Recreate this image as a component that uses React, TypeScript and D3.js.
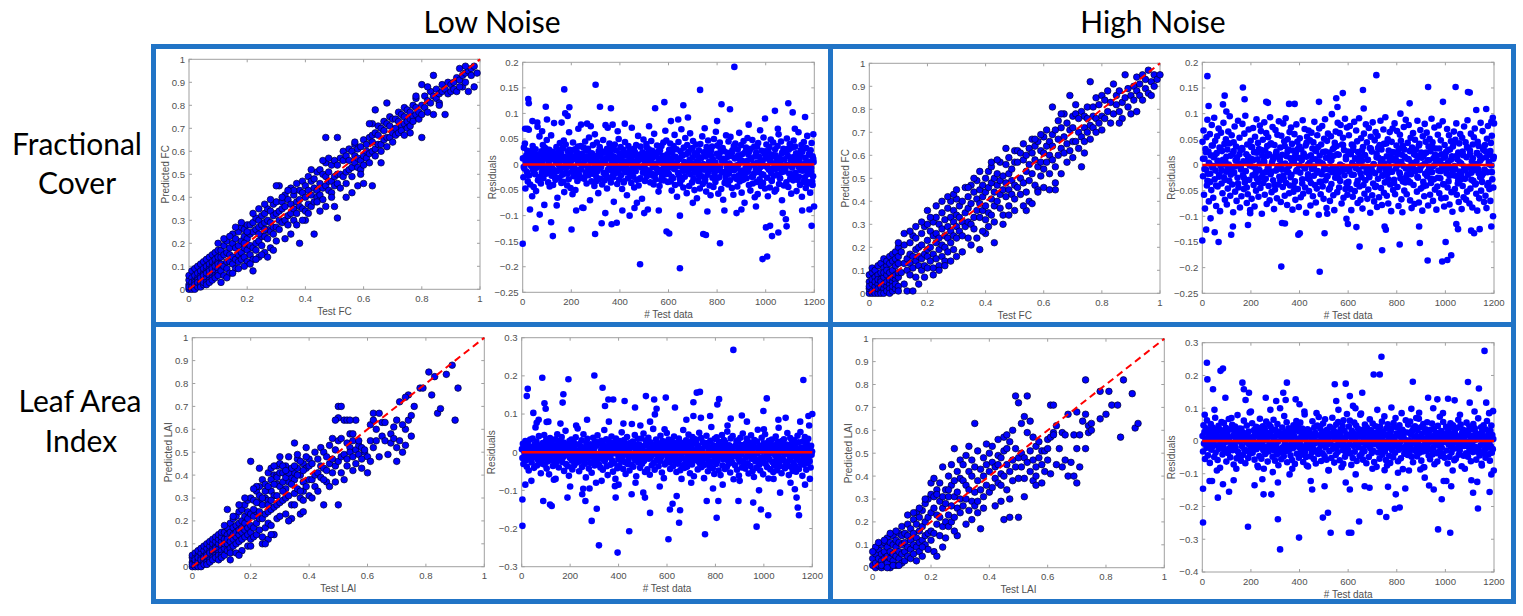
import React from 'react';
import * as d3 from 'd3';

// ---------- text ----------
const colTitles = ['Low Noise', 'High Noise'];
const rowTitles = [['Fractional', 'Cover'], ['Leaf Area', 'Index']];

// ---------- tick values ----------
const unitTicksY = [0, 0.1, 0.2, 0.3, 0.4, 0.5, 0.6, 0.7, 0.8, 0.9, 1];
const unitTicksX = [0, 0.2, 0.4, 0.6, 0.8, 1];
const indexTicks = [0, 200, 400, 600, 800, 1000, 1200];
const resFcTicks = [-0.25, -0.2, -0.15, -0.1, -0.05, 0, 0.05, 0.1, 0.15, 0.2];
const resLowLaiTicks = [-0.3, -0.2, -0.1, 0, 0.1, 0.2, 0.3];
const resHighLaiTicks = [-0.4, -0.3, -0.2, -0.1, 0, 0.1, 0.2, 0.3];

// ---------- scatter data: [test, predicted] in hundredths ----------
const lowFcPts: [number, number][] = [
[0,0],[0,2],[0,4],[0,1],[0,6],[1,0],[1,2],[1,5],[1,3],[1,8],[1,1],[2,1],[2,4],[2,0],[2,6],[2,3],[2,9],[2,2],[3,2],[3,5],[3,1],[3,7],[3,4],[3,10],[3,3],
[4,3],[4,6],[4,2],[4,8],[4,5],[4,1],[4,11],[5,4],[5,7],[5,2],[5,9],[5,6],[5,12],[5,3],[6,5],[6,8],[6,3],[6,10],[6,7],[6,2],[6,13],
[7,6],[7,4],[7,9],[7,11],[7,3],[7,8],[7,14],[8,7],[8,10],[8,5],[8,12],[8,4],[8,9],[8,15],[9,8],[9,6],[9,11],[9,13],[9,5],[9,10],[9,16],[10,9],[10,12],[10,7],[10,14],[10,6],[10,11],[10,17],
[11,14],[11,8],[11,17],[11,11],[12,10],[12,19],[12,6],[12,15],[13,16],[13,9],[13,21],[13,12],[14,12],[14,7],[14,18],[14,15],[15,20],[15,11],[15,24],[15,14],
[16,13],[16,22],[16,9],[16,18],[17,19],[17,12],[17,25],[17,15],[18,16],[18,27],[18,13],[18,21],[19,23],[19,14],[19,18],[19,26],[20,17],[20,28],[20,12],[20,22],
[21,24],[21,15],[21,19],[21,28],[22,18],[22,29],[22,25],[22,13],[23,26],[23,20],[23,31],[23,17],[24,21],[24,30],[24,14],[24,27],[25,28],[25,19],[25,32],[25,23],
[26,23],[26,33],[26,16],[26,29],[27,30],[27,22],[27,35],[27,26],[28,25],[28,34],[28,18],[28,29],[29,32],[29,24],[29,37],[29,27],[30,27],[30,38],[30,21],[30,33],
[10,20],[12,22],[14,23],[16,27],[18,29],[13,5],[15,7],[17,9],[19,10],[21,11],[23,13],[25,15],[27,14],[29,17],[22,33],[24,35],[26,37],[28,39],[11,3],[31,45],[22,8],[20,25],[24,24],[26,26],[19,20],
[31,34],[31,26],[31,30],[32,38],[32,29],[32,35],[33,30],[33,41],[33,36],[34,39],[34,32],[34,28],[35,33],[35,44],[35,37],[36,41],[36,35],[36,30],[37,46],[37,38],[37,33],
[38,36],[38,43],[38,39],[39,35],[39,47],[39,42],[40,45],[40,40],[40,34],[41,43],[41,37],[41,49],[42,41],[42,47],[42,36],[43,48],[43,44],[43,38],[44,43],[44,51],[44,40],
[45,46],[45,41],[45,52],[46,50],[46,44],[46,39],[47,45],[47,55],[47,49],[48,51],[48,43],[48,47],[49,54],[49,47],[49,42],[50,49],[50,56],[50,45],
[33,22],[35,24],[38,20],[43,24],[45,34],[47,36],[50,36],[40,30],[36,43],[39,30],[41,33],[46,56],[48,57],[32,40],[37,28],[34,43],[49,40],[47,66],[30,45],[42,52],[44,38],
[51,54],[51,46],[51,66],[51,31],[51,50],[52,57],[52,50],[52,44],[53,49],[53,56],[53,60],[54,58],[54,51],[54,46],[55,52],[55,61],[55,56],[56,60],[56,53],[56,49],
[57,55],[57,63],[57,58],[58,53],[58,61],[58,57],[59,62],[59,56],[59,52],[60,58],[60,65],[60,54],[61,63],[61,57],[61,60],[62,59],[62,66],[62,55],
[63,64],[63,60],[63,45],[63,72],[63,67],[64,61],[64,68],[64,58],[65,67],[65,63],[65,71],[66,63],[66,70],[66,60],[67,69],[67,65],[67,73],[68,66],[68,72],[68,62],[69,71],[69,66],[69,75],[70,68],[70,74],[70,64],
[54,40],[56,42],[58,45],[60,46],[62,72],[64,78],[68,81],[57,64],[66,55],[59,50],
[71,70],[71,74],[71,67],[72,73],[72,68],[72,77],[73,71],[73,76],[73,69],[74,75],[74,72],[74,79],[75,73],[75,78],[75,70],[76,77],[76,74],[76,71],[77,75],[77,80],[77,73],
[78,79],[78,76],[78,83],[79,77],[79,74],[80,80],[80,76],[80,66],[81,79],[81,84],[82,82],[82,77],[83,81],[83,86],[84,84],[84,76],[84,93],[85,83],[85,87],[86,85],[86,81],
[87,86],[87,89],[88,87],[88,76],[89,85],[89,90],[90,89],[90,86],[91,90],[91,87],[92,92],[92,86],[93,91],[93,96],[94,93],[94,88],[95,94],[95,90],[96,95],[96,86],
[97,96],[97,93],[98,97],[98,88],[99,94],[95,97],[93,88],[78,84],[80,89],[76,68],[74,67],[82,88],[86,80]
];

const highFcPts: [number, number][] = [
[0,0],[0,2],[0,5],[0,8],[0,3],[1,0],[1,4],[1,1],[1,9],[1,6],[1,11],[2,1],[2,3],[2,7],[2,0],[2,10],[2,5],[3,0],[3,4],[3,2],[3,8],[3,12],[3,6],
[4,1],[4,6],[4,3],[4,9],[4,13],[4,5],[4,0],[5,2],[5,7],[5,0],[5,11],[5,4],[5,15],[5,9],[6,3],[6,8],[6,1],[6,12],[6,5],[6,14],[6,10],
[7,4],[7,9],[7,2],[7,13],[7,6],[7,16],[7,0],[8,5],[8,10],[8,1],[8,14],[8,7],[8,3],[8,17],[9,6],[9,12],[9,2],[9,15],[9,8],[9,4],[9,18],[10,7],[10,13],[10,3],[10,16],[10,9],[10,1],[10,20],
[11,18],[11,9],[12,13],[12,4],[12,21],[13,15],[13,10],[14,22],[14,8],[14,13],[14,17],[15,11],[15,25],[15,16],[16,19],[16,7],[16,14],[16,24],[17,20],[17,12],[17,16],
[18,26],[18,10],[18,21],[18,15],[19,17],[19,29],[19,12],[20,23],[20,16],[20,30],[20,11],[20,19],
[21,27],[21,14],[21,20],[22,31],[22,17],[22,25],[22,11],[23,22],[23,33],[23,15],[23,26],[24,19],[24,30],[24,24],[24,12],[25,35],[25,21],[25,28],[25,16],
[26,25],[26,32],[26,14],[26,20],[27,37],[27,24],[27,29],[27,18],[28,22],[28,33],[28,27],[28,40],[29,31],[29,19],[29,36],[29,25],[30,24],[30,34],[30,29],[30,41],
[12,26],[14,27],[16,29],[18,31],[20,36],[22,8],[24,10],[26,12],[28,14],[30,16],[10,22],[13,1],[17,4],[19,7],[25,40],[27,42],[29,43],[23,38],[21,33],[15,1],
[31,38],[31,27],[31,33],[32,25],[32,40],[32,31],[33,35],[33,46],[33,29],[34,31],[34,42],[34,37],[34,24],[35,39],[35,30],[35,47],[36,44],[36,33],[36,28],[37,36],[37,49],[37,41],
[38,33],[38,45],[38,39],[38,19],[39,47],[39,36],[39,42],[40,32],[40,44],[40,50],[40,38],
[41,46],[41,35],[41,53],[42,41],[42,48],[42,34],[42,55],[43,38],[43,50],[43,44],[43,22],[44,52],[44,40],[44,47],[45,43],[45,57],[45,37],[45,49],[46,51],[46,45],[46,30],
[47,56],[47,42],[47,48],[48,38],[48,52],[48,59],[48,45],[49,54],[49,43],[49,49],[50,41],[50,57],[50,47],[50,62],
[32,18],[35,21],[37,24],[40,26],[38,53],[46,34],[48,34],[50,36],[42,57],[44,58],[36,50],[41,29],[39,27],[47,63],[43,31],[34,46],[30,45],
[51,57],[51,46],[51,62],[52,50],[52,61],[52,43],[53,58],[53,48],[53,65],[54,53],[54,44],[54,60],[55,49],[55,63],[55,56],[55,40],[56,61],[56,52],[56,67],[57,47],[57,58],[57,64],
[58,55],[58,66],[58,45],[59,62],[59,51],[59,57],[60,68],[60,54],[60,46],[60,61],
[61,57],[61,71],[61,64],[62,52],[62,66],[62,60],[63,69],[63,58],[63,81],[63,64],[64,55],[64,71],[64,45],[65,67],[65,60],[65,75],[66,72],[66,63],[66,52],
[67,68],[67,78],[67,61],[68,74],[68,57],[68,65],[69,71],[69,86],[69,62],[70,77],[70,66],[70,59],[70,72],
[54,36],[58,44],[64,48],[62,45],[56,39],[53,38],[57,67],[59,69],[66,78],
[71,78],[71,66],[71,82],[72,70],[72,63],[72,76],[73,68],[73,79],[73,55],[74,77],[74,66],[74,72],[75,81],[75,70],[75,76],[76,73],[76,92],[76,67],[77,81],[77,72],[77,77],
[78,70],[78,85],[78,76],[79,82],[79,74],[80,77],[80,86],[80,71],[81,84],[81,76],[82,79],[82,88],[83,74],[83,83],[84,91],[84,78],[85,82],[85,86],[86,79],[86,88],
[87,83],[87,76],[88,95],[88,85],[89,81],[89,89],[90,86],[90,78],[91,90],[91,84],[92,88],[92,94],[93,86],[93,91],[94,95],[94,84],[95,89],[95,93],[96,87],[96,97],
[97,92],[97,86],[98,95],[98,90],[99,93],[100,95],[92,79],[74,61],[86,74]
];

const lowLaiPts: [number, number][] = [
[0,0],[0,2],[0,4],[0,1],[0,5],[1,0],[1,2],[1,4],[1,1],[1,6],[1,3],[2,1],[2,3],[2,0],[2,5],[2,2],[2,7],[2,4],[3,2],[3,4],[3,1],[3,6],[3,3],[3,8],[3,0],
[4,3],[4,5],[4,2],[4,7],[4,4],[4,1],[4,9],[5,4],[5,6],[5,2],[5,8],[5,5],[5,10],[5,1],[6,5],[6,7],[6,3],[6,9],[6,6],[6,2],[6,11],
[7,6],[7,8],[7,4],[7,10],[7,3],[7,12],[7,7],[8,7],[8,9],[8,5],[8,11],[8,4],[8,13],[8,8],[9,8],[9,10],[9,6],[9,12],[9,5],[9,14],[9,3],[10,9],[10,11],[10,7],[10,13],[10,5],[10,15],[10,4],
[11,12],[11,8],[11,15],[11,5],[11,10],[12,10],[12,14],[12,7],[12,17],[12,12],[13,15],[13,11],[13,8],[13,19],[13,6],[14,12],[14,17],[14,21],[14,9],[14,14],
[15,18],[15,13],[15,10],[15,22],[15,15],[16,14],[16,19],[16,11],[16,24],[16,16],[17,20],[17,15],[17,12],[17,25],[17,17],[18,16],[18,22],[18,13],[18,27],[18,19],
[19,21],[19,17],[19,14],[19,29],[19,24],[20,18],[20,23],[20,15],[20,30],[20,12],
[12,25],[14,22],[16,27],[18,30],[20,46],[13,3],[15,6],[17,7],[19,9],[11,18],[16,5],[20,9],
[21,22],[21,13],[21,29],[21,17],[22,19],[22,33],[22,24],[22,14],[23,28],[23,16],[23,35],[23,21],[24,21],[24,38],[24,27],[24,13],[25,30],[25,17],[25,23],[25,36],
[26,24],[26,41],[26,19],[26,29],[27,33],[27,18],[27,25],[27,43],[28,26],[28,40],[28,14],[28,31],[29,36],[29,21],[29,27],[29,44],[30,28],[30,45],[30,22],[30,35],
[22,35],[24,10],[26,12],[28,44],[30,48],[23,43],[25,10],[27,14],[29,40],[21,34],
[21,25],[22,28],[23,31],[24,30],[25,33],[26,35],[27,38],[28,36],[29,39],[30,41],[31,41],[32,44],[33,37],[34,39],[35,41],[36,43],[37,40],[38,45],[39,43],[40,47],
[23,24],[26,27],[29,31],[32,34],[35,38],[38,33],[31,33],[34,27],[37,30],[27,29],
[31,37],[31,29],[31,44],[32,30],[32,39],[32,23],[33,41],[33,31],[33,48],[34,36],[34,43],[34,21],[35,44],[35,32],[35,54],[35,27],[36,40],[36,34],[36,47],
[37,33],[37,46],[37,23],[38,42],[38,37],[38,29],[39,48],[39,35],[39,52],[40,44],[40,38],[40,31],[33,20],[36,49],[38,24],[32,42],
[41,45],[41,38],[41,30],[42,40],[42,50],[42,35],[43,47],[43,41],[43,33],[44,39],[44,52],[44,44],[45,50],[45,43],[45,27],[46,42],[46,48],[46,37],
[47,53],[47,45],[47,35],[48,41],[48,56],[48,47],[49,51],[49,44],[49,37],[50,55],[50,46],[50,27],[50,70],[50,65],[51,70],[49,64],[45,38],
[51,56],[51,48],[51,41],[52,64],[52,49],[52,38],[53,54],[53,47],[53,44],[54,58],[54,52],[54,50],[55,55],[55,48],[55,58],[55,42],[56,51],[56,45],[56,64],
[57,49],[57,53],[58,52],[58,43],[59,50],[59,51],[60,48],[60,41],[53,64],[54,64],[57,55],[58,47],
[61,55],[61,62],[61,46],[62,67],[62,64],[62,52],[63,60],[63,55],[64,67],[64,48],[65,57],[65,63],[66,55],[67,49],[68,54],[68,58],[69,56],[69,61],[70,46],[70,64],[70,52],[66,63],
[71,72],[71,55],[72,50],[73,53],[73,60],[74,64],[74,75],[75,66],[75,57],[76,70],[78,78],[79,78],[81,85],[82,75],[83,83],[84,67],[85,69],[87,84],[89,88],[90,64],[91,78],[72,62],[73,74]
];

const highLaiPts: [number, number][] = [
[0,1],[0,4],[1,0],[1,2],[1,6],[2,1],[2,4],[2,8],[3,0],[3,3],[3,6],[3,10],[4,1],[4,4],[4,7],[4,11],[5,2],[5,5],[5,9],[5,13],[6,0],[6,4],[6,7],[6,11],[7,3],[7,6],[7,10],[7,14],
[8,1],[8,5],[8,9],[8,12],[9,4],[9,7],[9,11],[9,15],[10,2],[10,6],[10,10],[10,14],[1,9],[2,11],[4,12],[6,15],[8,16],[10,18],[0,7],[3,1],[5,0],[7,1],[9,1],[11,3],
[11,7],[11,15],[11,11],[12,14],[12,5],[12,19],[12,9],[13,8],[13,17],[13,12],[13,4],[14,15],[14,21],[14,6],[14,10],[15,9],[15,19],[15,13],[15,24],[15,3],
[16,16],[16,22],[16,7],[16,11],[17,12],[17,25],[17,18],[17,5],[18,20],[18,10],[18,28],[18,14],[19,15],[19,30],[19,8],[19,22],[20,24],[20,12],[20,32],[20,16],[20,37],
[14,24],[16,26],[18,30],[12,23],[21,7],[22,5],[21,39],[17,9],
[21,26],[21,15],[21,31],[22,19],[22,34],[22,23],[23,29],[23,14],[23,37],[23,22],[24,18],[24,31],[24,44],[24,26],[25,34],[25,20],[25,28],[25,13],
[26,23],[26,40],[26,31],[26,18],[27,36],[27,27],[27,45],[27,20],[28,31],[28,22],[28,52],[28,38],[29,26],[29,42],[29,14],[29,33],[30,39],[30,24],[30,47],[30,30],[22,32],[26,34],[24,9],[28,16],
[31,38],[31,27],[31,45],[32,30],[32,49],[32,36],[32,19],[33,42],[33,25],[33,53],[33,34],[34,29],[34,40],[34,47],[34,21],[35,44],[35,33],[35,63],[35,27],
[36,38],[36,51],[36,29],[36,24],[37,43],[37,17],[37,34],[38,48],[38,31],[38,40],[38,26],[39,36],[39,45],[39,54],[40,42],[40,33],[40,50],
[41,35],[41,46],[41,53],[42,39],[42,44],[42,27],[43,49],[43,37],[43,56],[44,41],[44,48],[44,29],[45,40],[45,51],[45,57],[46,45],[46,52],[46,34],
[47,42],[47,55],[47,30],[48,47],[48,38],[48,60],[49,44],[49,75],[49,52],[50,39],[50,48],[50,72],[45,21],[47,22],[50,22],[46,58],[43,45],[44,36],
[51,44],[51,50],[51,63],[52,39],[52,48],[52,66],[53,46],[53,75],[53,59],[54,42],[54,51],[54,64],[55,47],[55,38],[55,57],[56,44],[56,53],[56,40],[57,48],[57,55],
[58,45],[58,51],[59,51],[59,42],[60,47],[60,56],[56,36],[58,37],[52,31],[60,52],
[61,41],[61,57],[61,71],[62,59],[62,58],[62,71],[63,45],[63,62],[64,52],[65,59],[65,44],[66,47],[67,67],[67,40],[68,46],[69,40],[69,58],[70,52],[70,68],[70,37],[66,58],
[71,58],[71,44],[72,64],[73,67],[73,52],[74,62],[74,59],[75,63],[78,77],[78,65],[80,67],[81,77],[82,71],[84,71],[85,57],[86,82],[89,76],[90,61],[91,63],[73,82],[75,60]
];

// ---------- residuals: values in thousandths, listed in test-data order ----------
const lowFcBand = [
12,-25,33,-8,41,-47,5,18,-14,27,-33,2,68,-21,9,-39,24,-3,15,-62,
36,-11,-44,21,7,-19,30,-52,13,-6,74,-31,19,-2,55,-24,8,-37,26,-15,
3,38,-27,11,-79,22,-9,31,-18,48,-4,16,-35,6,29,-43,14,-12,57,-22,
-7,25,-40,10,81,-16,20,-30,4,34,-13,-65,17,28,-1,-26,42,-10,23,-36,
9,-20,32,-5,47,-54,15,-17,39,-8,1,-41,26,12,-29,63,-3,19,-46,7,
28,-14,-58,43,-23,11,-6,30,-50,18,-12,24,-32,5,70,-19,13,-27,2,36,
-9,21,-84,16,-2,33,-25,8,45,-15,27,-37,10,-4,31,-21,53,-11,-70,14,
6,-33,22,-18,38,-7,17,-42,59,-1,11,-24,43,-13,4,-56,20,-8,34,-28,
15,-5,26,-39,9,48,-16,23,-31,3,77,-20,12,-47,30,-10,19,-26,41,-3,
24,-35,7,-12,32,-22,16,-73,1,39,-17,28,-6,13,-38,65,-14,50,-29,8,
-4,34,-21,11,-48,20,-9,29,-33,6,44,-15,22,-1,-60,17,-27,36,-11,3,
27,-19,10,-36,72,-7,18,-24,31,-45,5,23,-13,38,-30,14,-3,56,-41,9,
19,-28,35,-6,12,-67,24,-16,49,-2,8,-32,21,-10,40,-23,15,-88,3,30,
-12,22,-35,7,46,-18,27,-5,14,-39,60,-21,2,-29,18,-8,37,-14,25,-53,
11,-42,28,-15,4,36,-24,17,-9,43,-31,9,-2,66,-19,47,-11,20,-34,6,
-18,29,-6,41,-33,12,-51,23,3,-27,36,-9,58,-40,15,-2,30,-63,8,-16,
44,-21,11,-37,26,-4,69,-30,17,-12,-45,33,5,-24,52,-8,20,-56,38,-1,
-14,25,-42,9,61,-19,31,-7,-35,14,46,-28,2,-50,22,-11,39,-3,-66,18,
7,-32,28,-15,-47,40,-6,13,-23,55,-38,1,24,-10,71,-29,16,-53,34,-5,
-20,47,-13,6,-41,19,-60,27,-2,35,-26,10,-44,50,-17,3,-34,64,-9,21,
37,-11,-57,15,-25,43,-4,29,-48,8,-15,32,-69,11,26,-36,4,-22,57,-13,
-6,23,-39,45,-18,2,-31,54,-10,17,-46,28,-3,-59,36,-24,12,41,-8,-28,
14,-43,30,-1,-21,62,-33,9,-12,38,-55,20,5,-30,46,-16,-75,24,-7,33,
-27,7,52,-14,19,-40,26,-3,-51,31,11,-24,48,-37,1,-18,35,-64,16,-9,
23,-34,4,-58,42,-11,15,-29,67,-5,-42,27,-19,8,-36,53,-2,21,-47,12,
-3,39,-26,14,-62,25,-10,34,-45,6,49,-17,-32,19,-8,43,-22,2,-53,30,
18,-49,7,-20,36,-6,59,-38,13,-27,3,45,-15,-70,24,-4,31,-41,10,-13,
-9,26,-35,51,-2,17,-44,29,-18,40,-28,8,-57,33,-6,14,-31,47,-21,1,
35,-16,22,-52,11,-30,4,63,-24,9,-40,18,-11,38,-63,25,-1,-34,44,-7,
-25,13,-46,32,-12,56,-19,6,-37,21,-4,-55,28,-14,42,-33,16,-23,5,-82
];
const lowFcCore = [
-5,14,-21,8,27,-12,3,-30,19,-7,33,-16,1,24,-9,-26,11,-2,17,-34,
6,-18,29,-4,12,-23,35,-10,2,-28,15,-6,21,-13,4,-32,26,-1,9,-20,
31,-8,13,-25,5,-15,22,-3,-35,18,-11,7,-19,28,-2,10,-27,16,-6,34,
-14,3,-22,20,-9,25,-31,1,14,-17,8,-24,30,-5,11,-29,19,-12,2,23,
-4,32,-16,6,-21,13,-1,-33,27,-10,17,-7,4,-26,21,-14,9,-30,15,-3,
24,-11,-2,18,-28,7,-19,29,-8,12,-24,1,35,-15,5,-20,26,-6,10,-31,
16,-9,3,-27,22,-13,-1,31,-18,8,-23,14,-5,28,-12,2,-34,19,-7,11
];
const lowFcOut: [number, number][] = [
[0,-155],[23,128],[25,120],[171,147],[300,156],[192,112],[95,113],[318,113],[363,110],[53,-125],[117,-113],[124,-140],[201,-127],[298,-136],[325,-115],[366,-117],[387,-114],[483,-195],[647,-203],[592,-131],[603,-135],[647,-100],[730,146],[871,191],[583,122],[545,110],[661,116],[818,118],[853,108],[743,-136],[754,-138],[812,-154],[987,-185],[1006,-180],[1001,-123],[1018,-120],[1026,-140],[1052,-133],[1038,105],[997,90],[1093,120],[1111,102],[1162,93],[1083,-107],[1086,-121],[1189,-120],[1196,59],[1193,-40],
[10,70],[20,70],[40,85],[60,82],[80,65],[100,88],[160,82],[175,100],[185,95],[240,78],[265,80],[280,75],[350,72],[370,78],[420,80],[460,-85],[500,-95],[520,75],[560,-90],[610,85],[640,88],[680,92],[700,-75],[760,-92],[800,85],[830,-90],[880,-95],[900,-88],[930,78],[960,-82],[1050,70],[1070,-95],[1120,70],[1150,-90],[1180,-88],[30,-88],[70,-98],[140,-80],[220,-90],[250,-85],[340,-95],[410,-90],[440,-100],[470,-75]
];

const highFcBand = [
45,-22,67,-58,12,-85,31,-9,54,-40,88,-17,26,-71,3,60,-33,19,-49,78,
-5,38,-64,15,92,-28,47,-11,-80,23,56,-42,8,71,-19,34,-90,-2,63,-36,
27,-55,10,82,-24,41,-68,6,50,-13,-77,30,-46,65,1,-31,95,-60,18,-8,
58,-38,22,-92,44,-15,75,-52,9,36,-70,14,-25,86,-44,2,53,-83,29,-6,
-61,33,80,-20,7,-47,61,-34,96,-12,21,-74,40,-57,16,69,-29,4,-88,47,
12,-66,35,-3,72,-39,25,-81,55,-16,-50,89,-27,11,43,-62,31,-10,77,-45,
66,-24,-95,18,49,-35,8,83,-58,28,-14,62,-76,37,-7,54,-41,21,-69,93,
-18,42,-53,5,74,-30,15,-86,39,-48,68,-11,26,-65,59,-2,-38,85,-23,10,
34,-72,57,-9,20,-43,81,-27,46,-60,3,91,-35,17,-78,50,-14,30,-55,64,
-40,13,73,-19,41,-87,28,-52,6,60,-32,-68,24,79,-10,45,-47,14,-82,36,
52,-15,-63,30,9,-36,87,-56,22,-4,70,-44,38,-93,16,55,-26,1,67,-51,
-28,48,-79,19,63,-8,32,-61,44,-21,84,-39,11,-73,27,-46,58,-12,35,-97,
71,-33,5,-57,40,-18,76,-42,25,-66,51,-3,89,-30,14,-84,47,-22,61,-9,
-48,24,-70,8,56,-37,99,-14,31,-59,18,-88,43,-25,65,-6,37,-53,82,-16,
20,-44,62,-31,78,-12,-75,40,-2,53,-64,29,-20,90,-47,11,-35,73,-58,26,
-33,58,-12,76,-47,21,-88,40,4,-62,29,-19,84,-51,13,-6,67,-37,46,-74,
25,-9,91,-42,17,-68,52,-24,8,-85,35,-3,61,-56,19,-30,79,-14,44,-66,
10,-48,72,-20,33,-93,55,-7,26,-59,83,-36,1,-71,48,-16,64,-41,22,-82,
57,-27,14,-63,39,-5,86,-45,30,-78,11,-21,69,-54,3,-34,93,-11,42,-60,
-18,50,-75,28,-3,64,-38,17,-90,45,-13,71,-49,9,-29,81,-57,24,-7,38,
66,-43,6,-80,31,-15,59,-26,47,-67,20,-92,37,-2,74,-50,16,-34,88,-23,
-57,12,43,-31,78,-8,27,-69,53,-18,-84,34,-4,62,-39,21,-76,49,-12,30,
7,-52,86,-25,15,-73,41,-10,68,-46,24,-1,-89,56,-33,19,-61,80,-17,45,
-40,63,-22,9,-79,36,-6,51,-58,27,-35,90,-14,44,-70,13,-28,73,-48,2,
32,-87,18,-42,59,-11,77,-55,8,-26,48,-65,21,-3,85,-37,14,-81,39,-9,
-64,25,-16,70,-44,5,-32,58,-77,30,-7,46,-53,17,-91,36,-20,65,-2,-47,
49,-21,81,-58,11,-36,24,-72,42,-13,60,-29,3,-86,53,-41,19,-63,75,-6,
-27,44,-68,15,-52,87,-19,33,-4,-75,28,-46,61,-15,7,-83,40,-31,54,-10,
71,-38,2,-56,23,-89,45,-8,37,-65,18,-24,82,-50,12,-33,66,-17,29,-72,
-11,39,-60,26,-84,51,-14,76,-35,6,-47,20,-70,43,-1,57,-28,92,-44,16
];
const highFcCore = [
12,-8,25,-31,4,-17,38,-2,19,-40,7,-23,33,-11,1,-29,16,-5,42,-19,
-14,27,-3,9,-36,21,-9,30,-25,5,-44,14,-1,35,-20,10,-7,24,-33,3,
29,-16,6,-27,18,-4,40,-13,11,-38,22,-6,15,-30,2,-21,37,-10,26,-2,
-24,8,-41,17,-12,31,-1,13,-28,20,-7,43,-18,4,-35,11,-3,28,-15,6,
18,-33,3,-9,26,-22,14,-45,9,-5,34,-14,21,-26,1,-11,39,-8,16,-37,
-6,23,-19,36,-2,12,-31,7,-16,28,-39,19,-4,10,-24,32,-12,2,-43,15,
33,-10,5,-20,41,-3,17,-28,8,-13,25,-35,13,-1,22,-17,6,-32,30,-7,
-18,11,-34,4,27,-9,19,-23,38,-5,14,-42,3,24,-13,9,-27,36,-2,20,
7,-25,32,-12,1,-38,16,-6,29,-21,10,-15,44,-8,18,-30,5,-19,26,-3,
-11,35,-4,21,-29,13,-1,-36,23,-16,8,-22,31,-9,15,-40,2,27,-14,12
];
const highFcOut: [number, number][] = [
[0,-147],[21,173],[26,115],[16,-126],[34,-104],[51,-131],[67,-150],[85,118],[92,135],[99,104],[119,-136],[126,-120],[167,151],[174,128],[188,-117],[197,-94],[263,123],[270,121],[325,-198],[328,-113],[340,-114],[357,119],[380,119],[401,-133],[395,-136],[480,123],[483,-208],[503,-133],[514,-95],[551,130],[556,113],[578,140],[593,-105],[599,-115],[634,-121],[647,-159],[661,146],[664,110],[716,175],[740,-166],[750,-120],[755,-126],[812,-155],[815,100],[853,120],[892,-120],[895,-152],[927,-186],[929,152],[987,-188],[1008,-185],[1024,-176],[990,123],[1001,-150],[1042,152],[1045,-115],[1052,-125],[1093,142],[1100,141],[1106,-128],[1118,-133],[1127,107],[1141,-125],[1168,109],[1189,-120],[1196,-100],[1189,84],[1200,81]
];

const lowLaiBand = [
8,-15,22,-31,4,17,-6,29,-22,11,-38,2,25,-12,-48,15,-3,33,-19,7,
-27,13,36,-9,1,-41,20,-14,65,-2,28,-35,10,-20,5,42,-25,16,-7,-55,
19,-4,-30,24,-16,9,45,-33,3,-11,31,-43,14,-1,-24,21,-58,6,37,-13,
-8,27,-21,12,-36,4,-72,18,-5,34,-28,9,-17,47,-2,23,-40,15,-10,30,
2,-19,40,-26,7,-13,25,-49,16,-3,56,-31,11,-8,20,-37,3,-62,29,-15,
14,-6,33,-22,-45,10,-1,26,-34,18,-11,39,-18,5,-27,62,-9,21,-50,1,
-23,16,-4,31,-39,8,-14,47,-20,3,-30,13,-66,24,-7,35,-16,10,-43,19,
6,-28,21,-2,-54,15,-12,38,-25,9,-35,28,-5,-80,17,-19,44,-9,26,-32,
-11,23,-40,4,30,-17,12,-46,20,-3,58,-24,7,-15,34,-37,1,-60,16,-8,
27,-13,9,-33,-6,41,-21,15,-51,2,25,-29,11,-70,36,-4,19,-42,8,-18,
13,-36,29,-10,5,-24,52,-15,18,-44,-1,32,-26,10,-57,22,-7,40,-31,3,
-20,7,-48,24,-9,16,-33,74,-5,28,-38,12,-16,45,-22,4,-63,19,-11,35,
10,-27,20,-4,-41,14,-19,36,-30,6,-12,49,-23,17,-52,1,30,-8,23,-45,
-3,38,-17,9,-59,26,-13,4,-34,21,-7,61,-28,13,-46,18,-2,33,-21,7,
24,-9,-37,15,2,-23,43,-14,11,-53,29,-5,18,-68,8,-32,27,-1,-26,50,
-12,21,-5,33,-27,9,-44,16,2,-19,28,-8,-37,12,41,-23,5,-15,24,-52,
18,-3,-30,11,36,-20,7,-47,25,-9,14,-34,3,58,-16,22,-41,8,-26,31,
-1,-38,19,-11,46,-24,6,-55,27,-7,13,-32,40,-18,2,-63,23,-13,34,-4,
29,-22,10,-45,17,-2,51,-29,8,-14,37,-39,4,-21,26,-10,-68,15,-33,20,
-6,43,-17,24,-50,3,-28,12,-36,30,-9,66,-25,7,-42,18,-1,-57,35,-15,
11,-31,39,-5,-23,16,-48,27,-12,4,-60,21,-8,45,-35,13,-19,32,-3,-44,
25,-14,2,-39,54,-21,9,-30,18,-6,-53,36,-16,6,-27,42,-11,-71,14,-2,
-34,17,-9,28,-46,1,31,-18,-61,12,-25,38,-7,19,-40,4,49,-22,10,-31,
7,-43,22,-13,35,-1,-29,15,-56,26,-4,11,-36,44,-17,3,-50,20,-10,-65,
32,-7,-24,13,-41,28,-2,59,-20,8,-33,17,-48,5,-14,38,-27,1,-58,23,
-16,9,47,-30,14,-5,-39,24,-11,-69,30,-19,6,-45,21,-3,33,-26,12,-52,
3,-35,18,-9,41,-22,5,-47,27,-13,64,-28,10,-37,16,-1,-55,29,-18,8,
-21,34,-6,-42,15,-32,20,-4,50,-25,11,-60,7,-15,37,-38,2,24,-12,-49,
14,-27,31,-2,-36,19,-51,9,-17,43,-8,26,-44,4,-23,53,-30,12,-6,-62,
28,-11,-33,7,40,-19,15,-46,23,-3,-28,35,-14,70,-24,10,-40,17,-7,2
];
const lowLaiOut: [number, number][] = [
[3,-193],[3,-124],[21,147],[25,166],[48,103],[62,77],[85,195],[89,-128],[94,128],[99,114],[103,79],[117,-137],[124,-141],[172,152],[169,130],[189,-119],[193,191],[250,-110],[254,-96],[263,-128],[289,-180],[300,201],[310,-148],[319,-244],[334,169],[344,121],[358,138],[378,138],[385,-89],[388,-119],[396,-263],[425,134],[444,-207],[454,-110],[468,117],[502,-106],[509,-119],[513,147],[530,-159],[547,138],[550,99],[557,114],[595,143],[606,-228],[612,-150],[623,-135],[633,117],[640,-115],[650,-185],[654,-152],[709,131],[709,95],[723,156],[736,158],[757,-215],[764,-128],[778,95],[808,125],[805,-172],[812,-128],[815,139],[863,88],[874,268],[895,-128],[909,96],[956,-132],[970,-195],[988,-150],[998,108],[1012,141],[1018,-165],[1067,-106],[1128,-97],[1135,-119],[1140,-145],[1145,-165],[1163,189],[1184,95],[1200,100],
[15,-85],[40,-75],[70,85],[110,80],[140,-70],[160,75],[200,-90],[225,70],[270,85],[280,-95],[330,-75],[360,80],[400,-85],[420,75],[470,-80],[490,70],[530,80],[570,-90],[590,60],[660,-70],[680,85],[700,-80],[740,90],[790,-95],[830,-85],[850,70],[900,-75],[930,80],[980,-100],[1000,60],[1040,-70],[1060,85],[1090,90],[1110,-80],[1150,80],[1170,-85],[1190,-70]
];

const highLaiBand = [
15,-32,48,-8,27,-55,6,39,-21,63,-12,-44,20,-3,35,-67,11,52,-27,2,
-18,41,-6,24,-49,9,71,-35,17,-14,30,-58,4,46,-24,13,-82,33,-9,58,
28,-41,8,-19,55,-30,19,-4,40,-63,14,26,-37,-1,67,-22,10,-50,36,-15,
-7,49,-28,16,-72,31,-11,44,-20,5,-53,23,79,-33,12,-45,38,-2,21,-60,
37,-16,3,-43,25,62,-26,9,-68,18,-5,47,-31,14,-52,29,-12,87,-38,6,
-22,11,54,-36,1,-15,33,-57,20,-8,43,-25,15,-76,40,-3,24,-46,68,-19,
9,-54,30,-10,45,-28,-85,17,37,-40,4,59,-17,26,-63,12,-32,50,-6,22,
44,-20,-4,32,-48,13,65,-29,7,-60,35,-13,19,-41,52,-2,-74,27,-24,16,
-35,23,-56,8,41,-19,12,-47,76,-9,28,-31,3,57,-65,21,-14,39,-27,10,
19,-44,34,-1,-58,26,-22,48,-11,14,-70,31,-7,61,-39,6,45,-18,-51,29,
-9,56,-25,13,-42,38,5,-64,22,-16,81,-33,10,-49,28,-4,36,-78,15,-21,
32,-12,-47,20,3,-35,60,-23,11,-55,42,-8,25,-69,16,-30,47,-2,-40,73,
-26,17,39,-14,-61,8,29,-38,53,-5,18,-46,66,-20,2,-57,34,-11,24,-89,
10,-31,43,-7,22,-52,14,71,-24,36,-15,-66,27,5,-43,50,-19,12,-34,58,
-4,26,-59,18,35,-13,-80,9,46,-28,63,-10,31,-48,7,-37,20,82,-23,15,
-29,44,-11,62,-38,17,-73,31,5,-52,24,-15,56,-33,9,-3,47,-61,20,-8,
37,-19,13,-46,28,-5,84,-40,16,-24,-57,35,7,-31,50,-12,22,-68,41,-1,
-14,27,-49,11,66,-22,33,-6,-37,15,53,-30,3,-64,25,-10,45,-2,-79,19,
8,-35,30,-17,-54,43,-4,14,-26,59,-42,1,27,-13,75,-32,18,-58,38,-7,
-21,51,-16,6,-45,22,-67,29,-3,39,-28,12,-50,55,-18,4,-36,70,-9,23,
41,-12,-62,16,-27,48,-5,31,-53,9,-20,34,-86,13,28,-39,4,-25,63,-14,
-6,26,-43,50,-19,2,-34,59,-11,19,-48,30,-4,-65,40,-26,13,45,-9,-31,
15,-47,33,-1,-23,68,-36,10,-14,42,-60,22,6,-32,52,-17,-80,26,-8,36,
-30,8,57,-15,21,-44,28,-4,-56,34,12,-26,53,-41,1,-20,38,-71,18,-10,
25,-37,5,-63,46,-12,16,-31,74,-6,-46,30,-21,9,-39,58,-3,23,-51,13,
-2,43,-29,15,-69,27,-11,37,-49,7,54,-18,-35,21,-9,48,-24,3,-59,33,
20,-54,8,-22,40,-7,65,-42,14,-30,4,50,-17,-77,26,-5,34,-45,11,-15,
-10,29,-38,56,-3,19,-48,32,-20,44,-31,9,-62,36,-7,16,-34,52,-23,2,
39,-18,25,-57,12,-33,5,69,-27,10,-44,20,-13,42,-70,28,-1,-37,48,-8,
-28,14,-51,35,-14,61,-21,7,-41,24,-5,-60,31,-16,47,-36,18,-25,6,-90
];
const highLaiOut: [number, number][] = [
[3,-249],[3,-146],[19,239],[21,188],[30,-122],[40,-122],[44,158],[64,-173],[75,214],[85,221],[85,-132],[95,132],[110,-155],[129,-120],[165,178],[171,158],[178,125],[188,-262],[192,147],[215,-135],[247,-117],[252,-163],[261,132],[284,-163],[304,122],[311,-127],[311,-239],[320,-331],[333,147],[343,125],[348,178],[359,-102],[384,127],[398,-295],[400,112],[446,-122],[452,-148],[496,-234],[517,-219],[503,-138],[528,-280],[545,173],[551,122],[590,175],[607,137],[590,-127],[607,-148],[603,-280],[613,-280],[620,107],[631,-102],[645,-246],[658,147],[668,-138],[688,-143],[705,203],[730,203],[730,-217],[737,257],[750,-89],[757,-232],[764,-140],[778,102],[792,-207],[796,-163],[805,-97],[812,-203],[835,-145],[860,98],[866,181],[892,86],[897,-87],[915,-112],[929,132],[933,-136],[952,-148],[967,127],[970,-270],[985,-178],[993,-122],[1004,-122],[1011,129],[1020,-280],[1024,-138],[1038,124],[1093,180],[1100,117],[1107,-120],[1114,-158],[1131,-125],[1134,-206],[1138,160],[1168,117],[1161,275],[1182,-156],[1189,-102],[1196,91],
[10,80],[50,95],[60,-90],[120,70],[140,-85],[200,90],[230,-80],[280,95],[290,-95],[320,100],[370,-85],[420,90],[430,-75],[470,85],[520,-90],[560,95],[580,-70],[630,100],[650,80],[700,-85],[720,95],[760,-75],[820,85],[850,-90],[880,70],[910,-80],[950,100],[990,85],[1030,-90],[1060,80],[1080,-85],[1120,90],[1150,-75],[1180,85]
];

// ---------- styling / layout ----------
const W = 1523, H = 616;
const FRAME = '#2174c6';
const AXIS = '#a0a0a0';
const TICK_TXT = '#505050';
const TICK_FONT = '"Liberation Sans", Arial, sans-serif';
const BIG_FONT = 'Lato, "Open Sans", sans-serif';

type Box = { l: number; r: number; t: number; b: number };

const fmt = (v: number) => d3.format('~g')(+v.toFixed(4));

function Axes({ box, x, y, xTicks, yTicks, xLabel, yLabel, yLabelOff }: any) {
  const tl = 3;
  return (
    <g>
      <rect x={box.l} y={box.t} width={box.r - box.l} height={box.b - box.t} fill="none" stroke={AXIS} strokeWidth={1} />
      {xTicks.map((v: number) => (
        <g key={'x' + v}>
          <line x1={x(v)} x2={x(v)} y1={box.b} y2={box.b - tl} stroke={AXIS} />
          <line x1={x(v)} x2={x(v)} y1={box.t} y2={box.t + tl} stroke={AXIS} />
          <text x={x(v)} y={box.b + 12.5} textAnchor="middle" fontSize={9.6} fill={TICK_TXT} fontFamily={TICK_FONT}>{fmt(v)}</text>
        </g>
      ))}
      {yTicks.map((v: number) => (
        <g key={'y' + v}>
          <line x1={box.l} x2={box.l + tl} y1={y(v)} y2={y(v)} stroke={AXIS} />
          <line x1={box.r} x2={box.r - tl} y1={y(v)} y2={y(v)} stroke={AXIS} />
          <text x={box.l - 4} y={y(v) + 3.4} textAnchor="end" fontSize={9.6} fill={TICK_TXT} fontFamily={TICK_FONT}>{fmt(v)}</text>
        </g>
      ))}
      <text x={(box.l + box.r) / 2} y={box.b + 25.7} textAnchor="middle" fontSize={10} fill={TICK_TXT} fontFamily={TICK_FONT}>{xLabel}</text>
      <text transform={`translate(${box.l - yLabelOff},${(box.t + box.b) / 2}) rotate(-90)`} textAnchor="middle" fontSize={10} fill={TICK_TXT} fontFamily={TICK_FONT}>{yLabel}</text>
    </g>
  );
}

function ScatterPanel({ box, pts, xLabel, yLabel }: { box: Box; pts: [number, number][]; xLabel: string; yLabel: string }) {
  const x = d3.scaleLinear().domain([0, 1]).range([box.l, box.r]);
  const y = d3.scaleLinear().domain([0, 1]).range([box.b, box.t]);
  const diag = d3.line<number>().x(d => x(d)).y(d => y(d))([0, 1]) || '';
  return (
    <g>
      <Axes box={box} x={x} y={y} xTicks={unitTicksX} yTicks={unitTicksY} xLabel={xLabel} yLabel={yLabel} yLabelOff={20.5} />
      {pts.map(([a, b], i) => (
        <circle key={i} cx={x(a / 100)} cy={y(b / 100)} r={3.3} fill="#0000ff" stroke="#000030" strokeWidth={0.7} />
      ))}
      <path d={diag} stroke="#ff0000" strokeWidth={2} strokeDasharray="7,4.5" fill="none" />
    </g>
  );
}

function spread(vals: number[]): [number, number][] {
  return vals.map((v, i) => [((i + 0.5) * 1200) / vals.length, v / 1000] as [number, number]);
}

function ResidualPanel({ box, band, core, out, yDomain, yTicks }: { box: Box; band: number[]; core?: number[]; out: [number, number][]; yDomain: [number, number]; yTicks: number[] }) {
  const x = d3.scaleLinear().domain([0, 1200]).range([box.l, box.r]);
  const y = d3.scaleLinear().domain(yDomain).range([box.b, box.t]);
  const pts: [number, number][] = [
    ...spread(band),
    ...(core ? spread(core) : []),
    ...out.map(([i, v]) => [i, v / 1000] as [number, number]),
  ];
  const zero = d3.line<number>().x(d => x(d)).y(() => y(0))([0, 1200]) || '';
  return (
    <g>
      <Axes box={box} x={x} y={y} xTicks={indexTicks} yTicks={yTicks} xLabel="# Test data" yLabel="Residuals" yLabelOff={27} />
      {pts.map(([a, b], i) => (
        <circle key={i} cx={x(a)} cy={y(b)} r={3.3} fill="#0000ff" />
      ))}
      <path d={zero} stroke="#ff0000" strokeWidth={2.5} fill="none" />
    </g>
  );
}

export default function App() {
  return (
    <svg width={W} height={H} style={{ position: 'absolute', left: 0, top: 0, background: '#fff' }}>
      <text x={492} y={33} textAnchor="middle" fontSize={30} fontFamily={BIG_FONT} fill="#000">{colTitles[0]}</text>
      <text x={1153} y={33} textAnchor="middle" fontSize={30} fontFamily={BIG_FONT} fill="#000">{colTitles[1]}</text>
      <text x={77} y={155} textAnchor="middle" fontSize={30} fontFamily={BIG_FONT} fill="#000">{rowTitles[0][0]}</text>
      <text x={77} y={194} textAnchor="middle" fontSize={30} fontFamily={BIG_FONT} fill="#000">{rowTitles[0][1]}</text>
      <text x={80} y={412} textAnchor="middle" fontSize={30} fontFamily={BIG_FONT} fill="#000">{rowTitles[1][0]}</text>
      <text x={81} y={452} textAnchor="middle" fontSize={30} fontFamily={BIG_FONT} fill="#000">{rowTitles[1][1]}</text>

      <ScatterPanel box={{ l: 189, r: 480, t: 59.3, b: 289.3 }} pts={lowFcPts} xLabel="Test FC" yLabel="Predicted FC" />
      <ResidualPanel box={{ l: 522.7, r: 814.3, t: 62.3, b: 292.3 }} band={lowFcBand} core={lowFcCore} out={lowFcOut} yDomain={[-0.25, 0.2]} yTicks={resFcTicks} />
      <ScatterPanel box={{ l: 869.3, r: 1160, t: 63.3, b: 293.3 }} pts={highFcPts} xLabel="Test FC" yLabel="Predicted FC" />
      <ResidualPanel box={{ l: 1202.3, r: 1494, t: 62.3, b: 293.3 }} band={highFcBand} core={highFcCore} out={highFcOut} yDomain={[-0.25, 0.2]} yTicks={resFcTicks} />
      <ScatterPanel box={{ l: 192.3, r: 484.3, t: 337.7, b: 566.7 }} pts={lowLaiPts} xLabel="Test LAI" yLabel="Predicted LAI" />
      <ResidualPanel box={{ l: 521.7, r: 812.3, t: 337.7, b: 566.7 }} band={lowLaiBand} out={lowLaiOut} yDomain={[-0.3, 0.3]} yTicks={resLowLaiTicks} />
      <ScatterPanel box={{ l: 872.7, r: 1164.3, t: 338.7, b: 567.7 }} pts={highLaiPts} xLabel="Test LAI" yLabel="Predicted LAI" />
      <ResidualPanel box={{ l: 1202.3, r: 1494, t: 342.7, b: 572 }} band={highLaiBand} out={highLaiOut} yDomain={[-0.4, 0.3]} yTicks={resHighLaiTicks} />

      <rect x={153.5} y={46.5} width={1360} height={555} fill="none" stroke={FRAME} strokeWidth={5} />
      <line x1={830.5} x2={830.5} y1={46.5} y2={601.5} stroke={FRAME} strokeWidth={5} />
      <line x1={153.5} x2={1513.5} y1={324.5} y2={324.5} stroke={FRAME} strokeWidth={5} />
    </svg>
  );
}
